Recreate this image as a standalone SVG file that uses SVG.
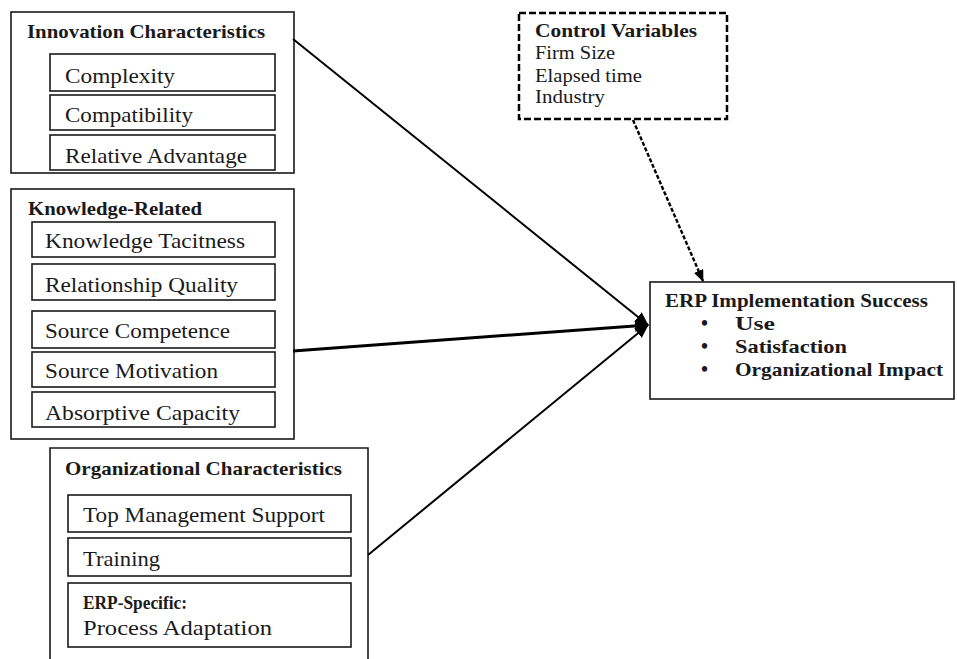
<svg xmlns="http://www.w3.org/2000/svg" width="957" height="659" viewBox="0 0 957 659">
<style>
text{font-family:"Liberation Serif","Times New Roman",serif;fill:#1a1a1a;}
.t{font-size:19px;font-weight:bold;}
.i{font-size:21px;}
.c{font-size:19px;}
.b{font-size:20px;font-weight:bold;}
.outer{fill:none;stroke:#1a1a1a;stroke-width:1.6;}
.inner{fill:#fff;stroke:#1a1a1a;stroke-width:1.6;}
.conn{stroke:#000;fill:none;}
</style>
<defs>
<marker id="ah" viewBox="0 0 14 12" refX="13" refY="6" markerWidth="14" markerHeight="12" markerUnits="userSpaceOnUse" orient="auto">
<path d="M0,0 L14,6 L0,12 Z" fill="#000"/>
</marker>
<marker id="ahs" viewBox="0 0 12 10" refX="11" refY="5" markerWidth="12" markerHeight="10" markerUnits="userSpaceOnUse" orient="auto">
<path d="M0,0 L12,5 L0,10 Z" fill="#000"/>
</marker>
</defs>
<rect width="957" height="659" fill="#fff"/>

<g id="innovation">
<rect class="outer" x="11" y="12" width="283" height="161"/>
<text class="t" x="27" y="38" textLength="238" lengthAdjust="spacingAndGlyphs">Innovation Characteristics</text>
<rect class="inner" x="50" y="54" width="225" height="37"/>
<text class="i" x="65" y="83" textLength="110" lengthAdjust="spacingAndGlyphs">Complexity</text>
<rect class="inner" x="50" y="95" width="225" height="35"/>
<text class="i" x="65" y="122" textLength="128" lengthAdjust="spacingAndGlyphs">Compatibility</text>
<rect class="inner" x="50" y="135" width="225" height="35"/>
<text class="i" x="65" y="163" textLength="182" lengthAdjust="spacingAndGlyphs">Relative Advantage</text>
</g>

<g id="knowledge">
<rect class="outer" x="11" y="189" width="283" height="250"/>
<text class="t" x="28" y="215" textLength="174" lengthAdjust="spacingAndGlyphs">Knowledge-Related</text>
<rect class="inner" x="32" y="222" width="243" height="35"/>
<text class="i" x="45" y="248" textLength="200" lengthAdjust="spacingAndGlyphs">Knowledge Tacitness</text>
<rect class="inner" x="32" y="264" width="243" height="36"/>
<text class="i" x="45" y="292" textLength="193" lengthAdjust="spacingAndGlyphs">Relationship Quality</text>
<rect class="inner" x="32" y="311" width="243" height="37"/>
<text class="i" x="45" y="338" textLength="185" lengthAdjust="spacingAndGlyphs">Source Competence</text>
<rect class="inner" x="32" y="352" width="243" height="35"/>
<text class="i" x="45" y="378" textLength="173" lengthAdjust="spacingAndGlyphs">Source Motivation</text>
<rect class="inner" x="32" y="392" width="243" height="35"/>
<text class="i" x="45" y="420" textLength="195" lengthAdjust="spacingAndGlyphs">Absorptive Capacity</text>
</g>

<g id="organizational">
<path class="outer" d="M50,670 L50,448 L368,448 L368,670"/>
<text class="t" x="65" y="475" textLength="277" lengthAdjust="spacingAndGlyphs">Organizational Characteristics</text>
<rect class="inner" x="68" y="495" width="283" height="37"/>
<text class="i" x="83" y="522" textLength="242" lengthAdjust="spacingAndGlyphs">Top Management Support</text>
<rect class="inner" x="68" y="538" width="283" height="38"/>
<text class="i" x="83" y="566" textLength="77" lengthAdjust="spacingAndGlyphs">Training</text>
<rect class="inner" x="68" y="583" width="283" height="64"/>
<text class="t" x="83" y="609" textLength="104" lengthAdjust="spacingAndGlyphs">ERP-Specific:</text>
<text class="i" x="83" y="635" textLength="189" lengthAdjust="spacingAndGlyphs">Process Adaptation</text>
</g>

<g id="control">
<rect x="519" y="13" width="208" height="106" fill="#fff" stroke="#000" stroke-width="2.5" stroke-dasharray="7 3"/>
<text class="t" x="535" y="37" textLength="162" lengthAdjust="spacingAndGlyphs">Control Variables</text>
<text class="c" x="535" y="59" textLength="80" lengthAdjust="spacingAndGlyphs">Firm Size</text>
<text class="c" x="535" y="82" textLength="107" lengthAdjust="spacingAndGlyphs">Elapsed time</text>
<text class="c" x="535" y="103" textLength="70" lengthAdjust="spacingAndGlyphs">Industry</text>
</g>

<g id="erp">
<rect class="outer" x="650" y="282" width="304" height="117" fill="#fff"/>
<text class="t" x="665" y="307" textLength="263" lengthAdjust="spacingAndGlyphs">ERP Implementation Success</text>
<text class="b" x="701" y="330">•</text>
<text class="t" x="735" y="330" textLength="40" lengthAdjust="spacingAndGlyphs">Use</text>
<text class="b" x="701" y="353">•</text>
<text class="t" x="735" y="353" textLength="112" lengthAdjust="spacingAndGlyphs">Satisfaction</text>
<text class="b" x="701" y="376">•</text>
<text class="t" x="735" y="376" textLength="208" lengthAdjust="spacingAndGlyphs">Organizational Impact</text>
</g>

<g id="connectors">
<line class="conn" x1="293" y1="39" x2="648" y2="325" stroke-width="2" marker-end="url(#ah)"/>
<line class="conn" x1="293" y1="351" x2="648" y2="325" stroke-width="3" marker-end="url(#ah)"/>
<line class="conn" x1="368" y1="555" x2="648" y2="325" stroke-width="2" marker-end="url(#ah)"/>
<line class="conn" x1="633" y1="120" x2="703" y2="281" stroke-width="2.4" stroke-dasharray="4 2" marker-end="url(#ahs)"/>
</g>
</svg>
